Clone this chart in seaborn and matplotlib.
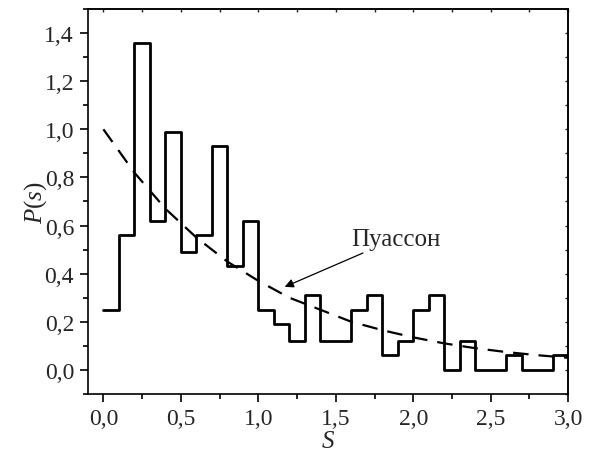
import numpy as np
import pandas as pd
import seaborn as sns
import matplotlib
matplotlib.use("Agg")
import matplotlib.pyplot as plt
from matplotlib.ticker import MultipleLocator, FuncFormatter

# histogram P(s), bins of width 0.1 from 0 to 3.0
bin_left = [0.0, 0.1, 0.2, 0.3, 0.4, 0.5, 0.6, 0.7, 0.8, 0.9,
            1.0, 1.1, 1.2, 1.3, 1.4, 1.5, 1.6, 1.7, 1.8, 1.9,
            2.0, 2.1, 2.2, 2.3, 2.4, 2.5, 2.6, 2.7, 2.8, 2.9]
p_hist = [0.25, 0.56, 1.36, 0.62, 0.99, 0.49, 0.56, 0.93, 0.43, 0.62,
          0.25, 0.19, 0.12, 0.31, 0.12, 0.12, 0.25, 0.31, 0.06, 0.12,
          0.25, 0.31, 0.00, 0.12, 0.00, 0.00, 0.06, 0.00, 0.00, 0.06]

# Poisson curve
s_pois = [0.0, 0.2, 0.4, 0.6, 0.8, 1.0, 1.2, 1.4, 1.6, 1.8, 2.0, 2.2, 2.4, 2.6, 2.8, 3.0]
p_pois = [1.00, 0.82, 0.67, 0.55, 0.45, 0.37, 0.30, 0.25, 0.20, 0.165, 0.135, 0.11, 0.09, 0.074, 0.061, 0.05]

sns.set_theme(style="ticks")
plt.rcParams['font.family'] = ['Liberation Serif', 'DejaVu Serif']
plt.rcParams['mathtext.fontset'] = 'custom'
plt.rcParams['mathtext.rm'] = 'Liberation Serif'
plt.rcParams['mathtext.it'] = 'Liberation Serif:italic'

# step outline: repeat last value at right edge
hist_df = pd.DataFrame({"s": bin_left + [3.0], "P": p_hist + [p_hist[-1]]})
pois_df = pd.DataFrame({"s": s_pois, "P": p_pois})

fig = plt.figure(figsize=(5.9, 4.56), dpi=100)
ax = fig.add_axes([0.149, 0.134, 0.814, 0.844])

sns.lineplot(data=hist_df, x="s", y="P", ax=ax, color="black", lw=2.0,
             drawstyle="steps-post", estimator=None, sort=False)
sns.lineplot(data=pois_df, x="s", y="P", ax=ax, color="black", lw=1.6,
             dashes=False, estimator=None, sort=False, linestyle=(0, (7, 4.5)))

ax.annotate("Пуассон", xy=(1.17, 0.345), xytext=(1.60, 0.545),
            fontsize=18, va="center", ha="left",
            arrowprops=dict(arrowstyle="-|>", color="black", lw=0.9,
                            mutation_scale=13, shrinkA=0, shrinkB=0))

ax.set_xlim(-0.1, 3.0)
ax.set_ylim(-0.1, 1.5)
ax.xaxis.set_major_locator(MultipleLocator(0.5))
ax.xaxis.set_minor_locator(MultipleLocator(0.25))
ax.yaxis.set_major_locator(MultipleLocator(0.2))
ax.yaxis.set_minor_locator(MultipleLocator(0.1))
fmt = FuncFormatter(lambda v, pos: f"{v:.1f}".replace(".", ","))
ax.xaxis.set_major_formatter(fmt)
ax.yaxis.set_major_formatter(fmt)
ax.set_yticks([0.0, 0.2, 0.4, 0.6, 0.8, 1.0, 1.2, 1.4])

ax.tick_params(which="major", direction="out", length=6, width=1.2,
               labelsize=17, color="black", pad=4)
ax.tick_params(which="minor", direction="out", length=3.5, width=1.2, color="black")
for sp in ax.spines.values():
    sp.set_linewidth(1.2)
    sp.set_color("black")
    sp.set_visible(True)

# small inward ticks mirrored on top and right
axt = ax.secondary_xaxis("top")
axt.xaxis.set_major_locator(MultipleLocator(0.5))
axt.xaxis.set_minor_locator(MultipleLocator(0.25))
axt.tick_params(which="both", direction="in", length=2.5, width=1.0, labeltop=False)
axr = ax.secondary_yaxis("right")
axr.yaxis.set_major_locator(MultipleLocator(0.2))
axr.yaxis.set_minor_locator(MultipleLocator(0.1))
axr.tick_params(which="both", direction="in", length=2.5, width=1.0, labelright=False)

ax.set_xlabel(r"$S$", fontsize=18, labelpad=0)
ax.set_ylabel(r"$P(s)$", fontsize=18)
ax.yaxis.set_label_coords(-0.08, 0.5)
ax.xaxis.set_label_coords(0.5, -0.095)

fig.savefig("out.png", dpi=100)
